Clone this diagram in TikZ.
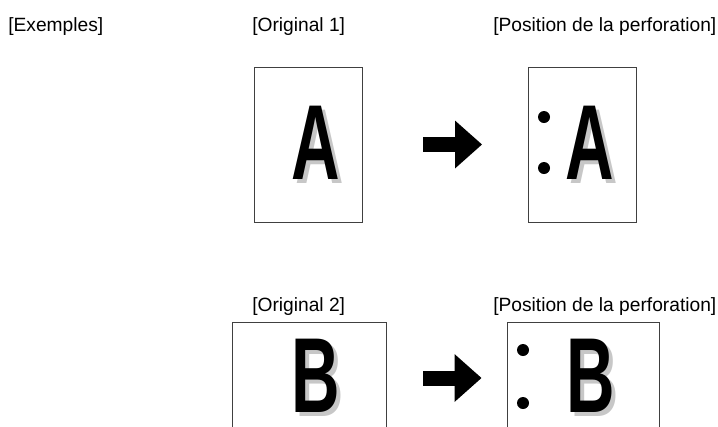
\documentclass[tikz,border=0pt]{standalone}
\usepackage{fontspec}
\setmainfont{Liberation Sans}
\usetikzlibrary{arrows.meta}
\tikzset{
  page/.style={draw=black!75, line width=0.6pt, inner sep=0pt},
  hole/.style={circle, fill=black, inner sep=0pt, minimum size=9pt},
  glyph/.style={font=\fontsize{80}{80}\selectfont\bfseries, xscale=0.63, inner sep=0pt, anchor=base},
  glyphshade/.style={glyph, text=black!22},
  caption/.style={font=\fontsize{14.4}{17}\selectfont, inner sep=0pt, anchor=base west},
  pusharrow/.style={line width=11.25pt, -{Triangle[length=20.25pt, width=34.5pt]}},
}
\begin{document}
\begin{tikzpicture}[x=0.75pt, y=-0.75pt]
  \clip (0,0) rectangle (718,426);
  % headings
  \node[caption] (ex) at (8,31) {[Exemples]};
  \node[caption] (orig1) at (252,31) {[Original 1]};
  \node[caption] (pos1) at (493,31) {[Position de la perforation]};
  % example 1: portrait sheet
  \node[page, minimum width=81pt, minimum height=116.25pt] (pageA) at (308,144.5) {};
  \node[glyphshade] (shA) at (320,183) {A};
  \node[glyph] (letA) at (316,179) {A};
  \node[page, minimum width=81pt, minimum height=116.25pt] (punchA) at (582.5,144.5) {};
  \node[glyphshade] (shAp) at (594,183) {A};
  \node[glyph] (letAp) at (590,179) {A};
  \node[hole] (holeA1) at (544,117) {};
  \node[hole] (holeA2) at (544,168) {};
  \draw[pusharrow, shorten <=45.75pt, shorten >=34.5pt] (pageA) -- (punchA);
  % example 2: landscape sheet
  \node[caption] (orig2) at (252,311) {[Original 2]};
  \node[caption] (pos2) at (493,311) {[Position de la perforation]};
  \node[page, minimum width=115.5pt, minimum height=84pt] (pageB) at (309,378) {};
  \node[glyphshade] (shB) at (320,416) {B};
  \node[glyph] (letB) at (316,412) {B};
  \node[page, minimum width=114pt, minimum height=84pt] (punchB) at (583,378) {};
  \node[glyphshade] (shBp) at (595,416) {B};
  \node[glyph] (letBp) at (591,412) {B};
  \node[hole] (holeB1) at (523,350) {};
  \node[hole] (holeB2) at (523,403) {};
  \draw[pusharrow, shorten <=27.75pt, shorten >=18.75pt] (pageB) -- (punchB);
\end{tikzpicture}
\end{document}
